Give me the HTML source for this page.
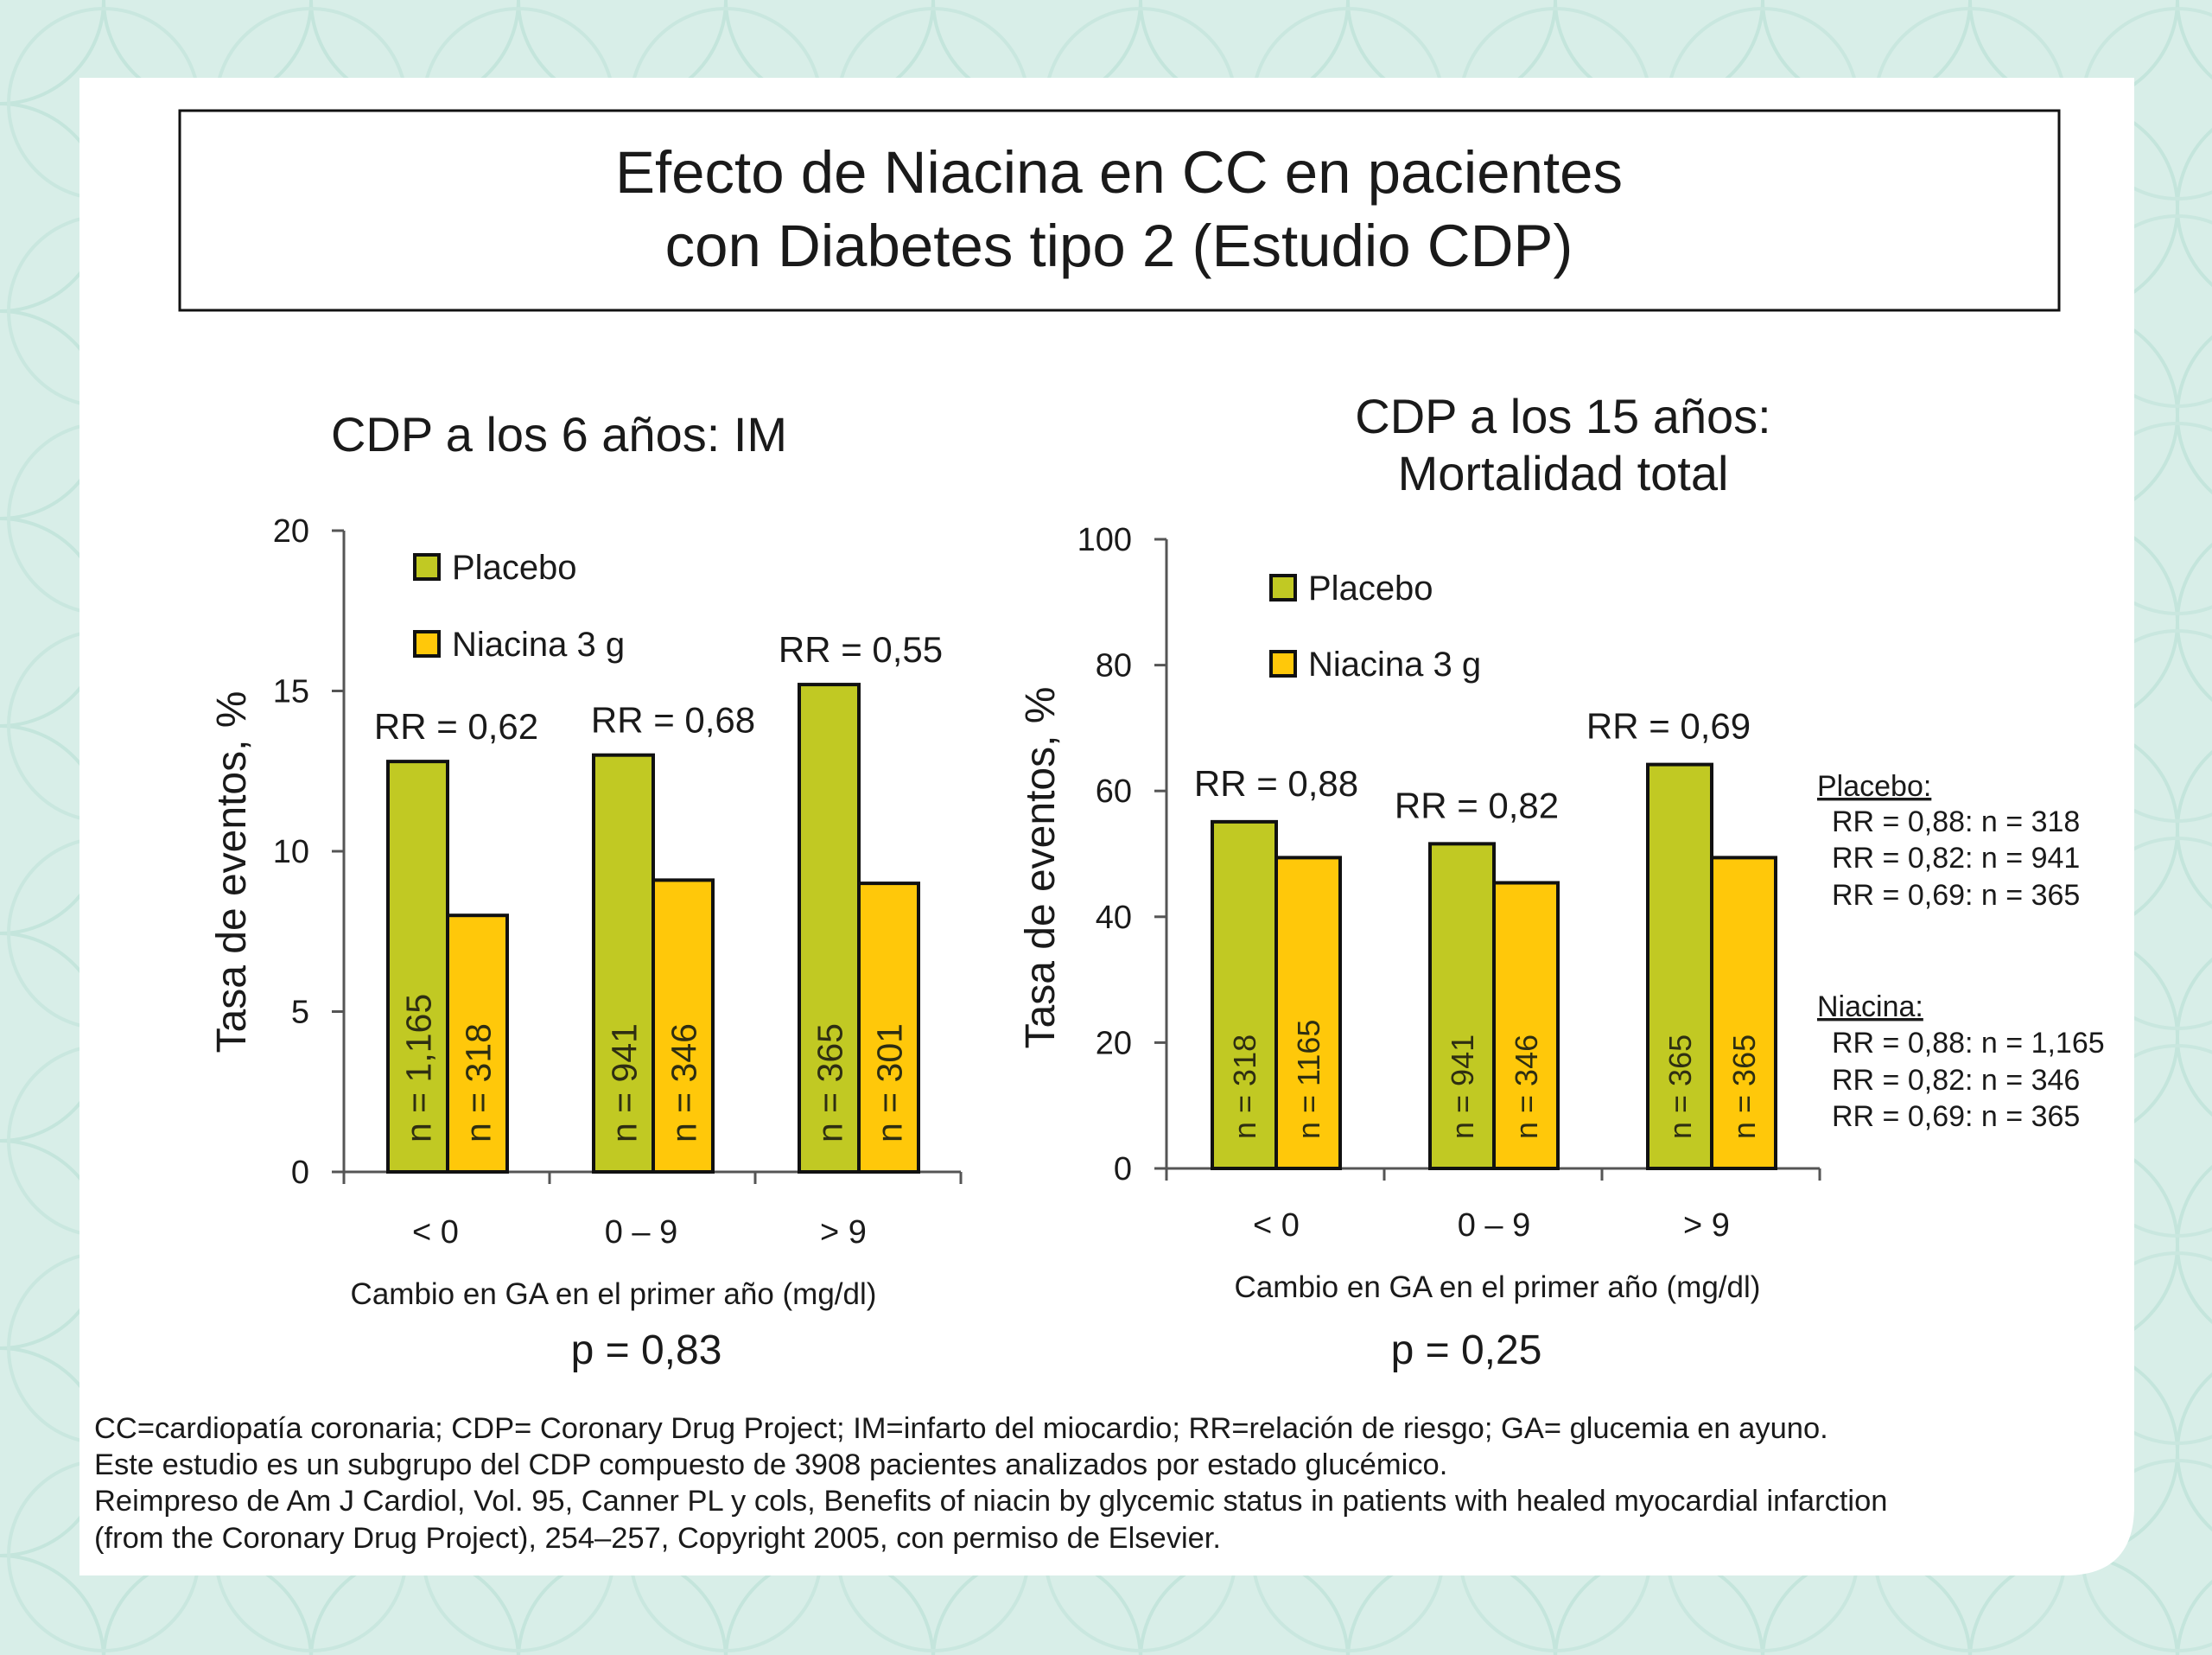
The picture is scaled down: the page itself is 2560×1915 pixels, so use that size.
<!DOCTYPE html>
<html><head><meta charset="utf-8"><style>
html,body{margin:0;padding:0;width:2560px;height:1915px;overflow:hidden;background:#d2ebe4;}
svg{display:block;font-family:"Liberation Sans",sans-serif;}
</style></head><body>
<svg id="chart" width="2560" height="1915" viewBox="0 0 2560 1915" xmlns="http://www.w3.org/2000/svg">
<defs>
<pattern id="bgpat" width="240" height="240" patternUnits="userSpaceOnUse">
<rect width="240" height="240" fill="#d8eee8"/>
<circle cx="0" cy="0" r="120" fill="none" stroke="#c4e5dc" stroke-width="4"/>
<circle cx="240" cy="0" r="120" fill="none" stroke="#c4e5dc" stroke-width="4"/>
<circle cx="0" cy="240" r="120" fill="none" stroke="#c4e5dc" stroke-width="4"/>
<circle cx="240" cy="240" r="120" fill="none" stroke="#c4e5dc" stroke-width="4"/>
<circle cx="120" cy="120" r="110" fill="none" stroke="#c9e7df" stroke-width="4"/>
</pattern>
</defs>
<rect x="0" y="0" width="2560" height="1915" fill="url(#bgpat)"/>
<path d="M92,90 H2470 V1743 Q2470,1823 2390,1823 H92 Z" fill="#ffffff"/>
<rect x="208" y="128" width="2175" height="231" fill="#fff" stroke="#111" stroke-width="3"/>
<text x="1295" y="223" text-anchor="middle" font-size="69" fill="#1a1a1a">Efecto de Niacina en CC en pacientes</text>
<text x="1295" y="308" text-anchor="middle" font-size="69" fill="#1a1a1a">con Diabetes tipo 2 (Estudio CDP)</text>

<text x="647" y="522" text-anchor="middle" font-size="56" fill="#1a1a1a">CDP a los 6 años: IM</text>
<text x="1809" y="501" text-anchor="middle" font-size="56" fill="#1a1a1a">CDP a los 15 años:</text>
<text x="1809" y="567" text-anchor="middle" font-size="56" fill="#1a1a1a">Mortalidad total</text>

<g id="left"></g>
<g id="right"></g>

<g font-size="34" fill="#1a1a1a">
<text x="2103" y="921" text-decoration="underline">Placebo:</text>
<text x="2120" y="962">RR = 0,88: n = 318</text>
<text x="2120" y="1004">RR = 0,82: n = 941</text>
<text x="2120" y="1047">RR = 0,69: n = 365</text>
<text x="2103" y="1176" text-decoration="underline">Niacina:</text>
<text x="2120" y="1218">RR = 0,88: n = 1,165</text>
<text x="2120" y="1261">RR = 0,82: n = 346</text>
<text x="2120" y="1303">RR = 0,69: n = 365</text>
</g>

<g font-size="34.5" fill="#1a1a1a">
<text x="109" y="1664">CC=cardiopatía coronaria; CDP= Coronary Drug Project; IM=infarto del miocardio; RR=relación de riesgo; GA= glucemia en ayuno.</text>
<text x="109" y="1706">Este estudio es un subgrupo del CDP compuesto de 3908 pacientes analizados por estado glucémico.</text>
<text x="109" y="1748">Reimpreso de Am J Cardiol, Vol. 95, Canner PL y cols, Benefits of niacin by glycemic status in patients with healed myocardial infarction</text>
<text x="109" y="1791">(from the Coronary Drug Project), 254–257, Copyright 2005, con permiso de Elsevier.</text>
</g>
</svg>
<script>
const categories = ["< 0", "0 – 9", "> 9"];
const leftPlacebo = [12.8, 13.0, 15.2];
const leftNiacina = [8.0, 9.1, 9.0];
const leftRR = ["RR = 0,62", "RR = 0,68", "RR = 0,55"];
const leftNPlacebo = ["n = 1,165", "n = 941", "n = 365"];
const leftNNiacina = ["n = 318", "n = 346", "n = 301"];
const leftTicks = [0, 5, 10, 15, 20];
const rightPlacebo = [55.1, 51.6, 64.2];
const rightNiacina = [49.4, 45.4, 49.4];
const rightRR = ["RR = 0,88", "RR = 0,82", "RR = 0,69"];
const rightNPlacebo = ["n = 318", "n = 941", "n = 365"];
const rightNNiacina = ["n = 1165", "n = 346", "n = 365"];
const rightTicks = [0, 20, 40, 60, 80, 100];

const NS = "http://www.w3.org/2000/svg";
function mk(parent, tag, attrs, text) {
  const e = document.createElementNS(NS, tag);
  for (const k in attrs) e.setAttribute(k, attrs[k]);
  if (text !== undefined) e.textContent = text;
  parent.appendChild(e);
  return e;
}

function drawChart(g, cfg) {
  const yScale = v => cfg.y0 - (v / cfg.yMax) * (cfg.y0 - cfg.yTop);
  const groupW = (cfg.xEnd - cfg.x0) / categories.length;
  const gx = i => cfg.x0 + i * groupW;
  let e = mk(g, "line", {x1: cfg.x0, y1: cfg.yTop, x2: cfg.x0, y2: cfg.y0, stroke: "#555", "stroke-width": 3});
  
  
  e = mk(g, "line", {x1: cfg.x0 - 14, y1: cfg.y0, x2: cfg.xEnd, y2: cfg.y0, stroke: "#555", "stroke-width": 3});
  
  
  cfg.ticks.forEach(t => {
    const y = yScale(t);
    let l = mk(g, "line", {x1: cfg.x0 - 14, y1: y, x2: cfg.x0, y2: y, stroke: "#555", "stroke-width": 3});
    
    
    let tx = mk(g, "text", {x: cfg.x0 - 40, y: y + 13, "text-anchor": "end", "font-size": 38, fill: "#1a1a1a"}, String(t));
    
    
  });
  for (let i = 0; i <= categories.length; i++) {
    let l = mk(g, "line", {x1: gx(i), y1: cfg.y0, x2: gx(i), y2: cfg.y0 + 14, stroke: "#555", "stroke-width": 3});
    
    
  }
  categories.forEach((c, i) => {
    const bx = gx(i) + cfg.barOff;
    const series = [[cfg.placebo[i], "#c1c923", cfg.nP[i], "bar-placebo"], [cfg.niacina[i], "#ffc80a", cfg.nN[i], "bar-niacina"]];
    series.forEach((s, j) => {
      const x = bx + j * cfg.barW;
      const y = yScale(s[0]);
      let r = mk(g, "rect", {x: x, y: y, width: cfg.barW, height: cfg.y0 - y, fill: s[1], stroke: "#111", "stroke-width": 4});
      
      
      const cx = x + cfg.barW / 2 + cfg.nFont * 0.36;
      const by = cfg.y0 - 34;
      let t = mk(g, "text", {x: cx, y: by, transform: `rotate(-90 ${cx} ${by})`, "font-size": cfg.nFont, fill: "#2e2e12"}, s[2]);
      
      
    });
    let rr = mk(g, "text", {x: bx + cfg.barW + cfg.rrDx[i], y: yScale(cfg.placebo[i]) - cfg.rrGap[i], "text-anchor": "middle", "font-size": 42, fill: "#1a1a1a"}, cfg.rr[i]);
    
    
    let cl = mk(g, "text", {x: bx + cfg.barW + cfg.catDx[i], y: cfg.catY, "text-anchor": "middle", "font-size": 38, fill: "#1a1a1a"}, c);
    
    
  });
  [["#c1c923", "Placebo", cfg.legY[0], "legend-placebo"], ["#ffc80a", "Niacina 3 g", cfg.legY[1], "legend-niacina"]].forEach(l => {
    let sq = mk(g, "rect", {x: cfg.legX, y: l[2] - 14, width: 28, height: 28, fill: l[0], stroke: "#111", "stroke-width": 4});
    
    
    let t = mk(g, "text", {x: cfg.legX + 43, y: l[2] + 14, "font-size": 40, fill: "#1a1a1a"}, l[1]);
    
    
  });
  let yt = mk(g, "text", {x: cfg.yTitleX, y: cfg.yTitleY, transform: `rotate(-90 ${cfg.yTitleX} ${cfg.yTitleY})`, "text-anchor": "middle", "font-size": 48, fill: "#1a1a1a"}, "Tasa de eventos, %");
  
  
  let xt = mk(g, "text", {x: cfg.xTitleX, y: cfg.xTitleY, "text-anchor": "middle", "font-size": 35, fill: "#1a1a1a"}, "Cambio en GA en el primer año (mg/dl)");
  
  
  let p = mk(g, "text", {x: cfg.pX, y: cfg.pY, "text-anchor": "middle", "font-size": 48, fill: "#1a1a1a"}, cfg.p);
  
  
}

drawChart(document.getElementById("left"), {
  x0: 398, xEnd: 1112, y0: 1356, yTop: 614, yMax: 20, ticks: leftTicks,
  barOff: 51, barW: 69, placebo: leftPlacebo, niacina: leftNiacina,
  nP: leftNPlacebo, nN: leftNNiacina, rr: leftRR, nFont: 41,
  rrDx: [10, 23, 2], rrGap: [26, 26, 26], catY: 1438, catDx: [-14, -14, -18],
  legX: 480, legY: [656, 745], yTitleX: 284, yTitleY: 1009,
  xTitleX: 710, xTitleY: 1509, pX: 748, pY: 1578, p: "p = 0,83"
});
drawChart(document.getElementById("right"), {
  x0: 1350, xEnd: 2106, y0: 1352, yTop: 624, yMax: 100, ticks: rightTicks,
  barOff: 53, barW: 74, placebo: rightPlacebo, niacina: rightNiacina,
  nP: rightNPlacebo, nN: rightNNiacina, rr: rightRR, nFont: 36,
  rrDx: [0, -20, -50], rrGap: [30, 30, 30], catY: 1430, catDx: [0, 0, -6],
  legX: 1471, legY: [680, 768], yTitleX: 1220, yTitleY: 1004,
  xTitleX: 1733, xTitleY: 1501, pX: 1697, pY: 1578, p: "p = 0,25"
});
</script>
</body></html>
